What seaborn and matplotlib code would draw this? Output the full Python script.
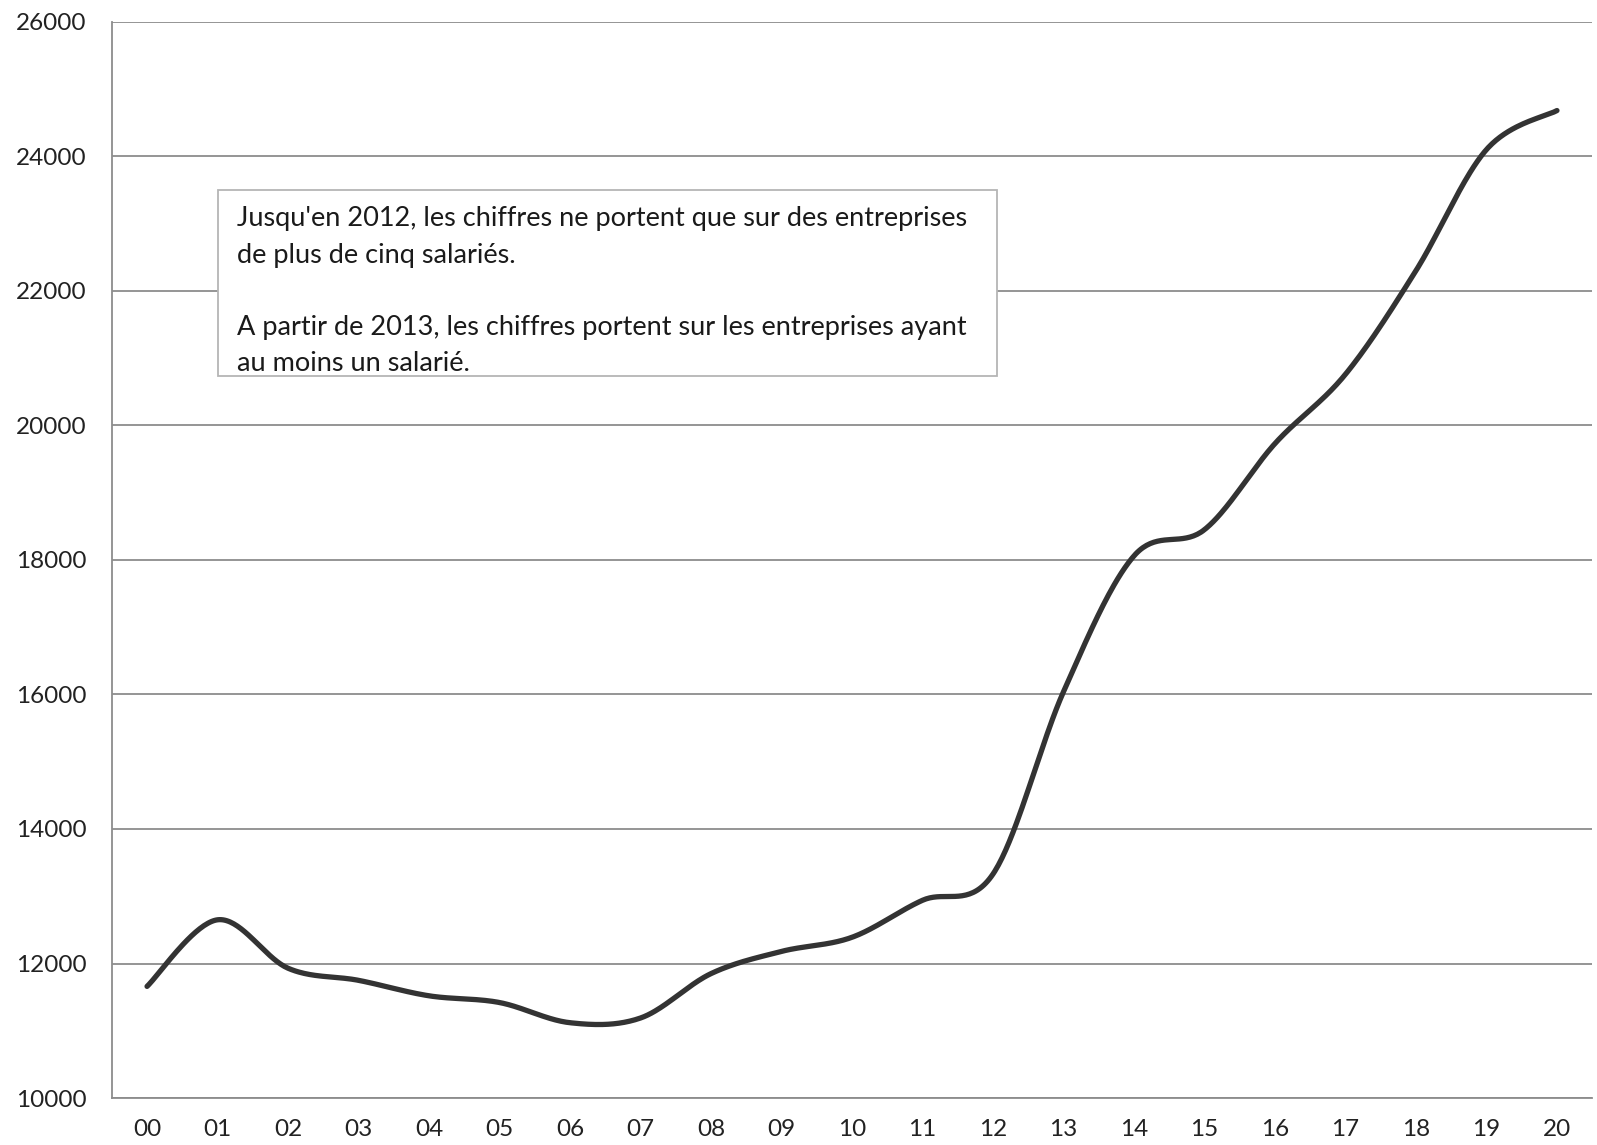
import numpy as np
import pandas as pd
import matplotlib
matplotlib.use("Agg")
import matplotlib.pyplot as plt
from matplotlib.patches import Rectangle
import seaborn as sns

# ── Données ────────────────────────────────────────────────────────
years = ["00", "01", "02", "03", "04", "05", "06", "07", "08", "09", "10",
         "11", "12", "13", "14", "15", "16", "17", "18", "19", "20"]
values = [11660, 12650, 11930, 11750, 11520, 11420, 11120, 11190, 11850, 12180,
          12390, 12940, 13330, 16040, 18060, 18450, 19730, 20760, 22300, 24100, 24680]
y_ticks = list(range(10000, 26001, 2000))
note_lines = [
    "Jusqu'en 2012, les chiffres ne portent que sur des entreprises",
    "de plus de cinq salariés.",
    "",
    "A partir de 2013, les chiffres portent sur les entreprises ayant",
    "au moins un salarié.",
]

sns.set_theme(style="white")
plt.rcParams["font.family"] = ["Lato", "DejaVu Sans"]


def excel_smooth(xs, ys, n=40):
    # courbe lissée façon Excel (Bézier, tangentes Catmull-Rom)
    pts = np.column_stack([xs, ys]).astype(float)
    p = np.vstack([pts[0], pts, pts[-1]])
    t = np.linspace(0, 1, n)[:, None]
    out = []
    for i in range(1, len(p) - 2):
        p0, p1, p2, p3 = p[i - 1], p[i], p[i + 1], p[i + 2]
        b1 = p1 + (p2 - p0) / 6
        b2 = p2 - (p3 - p1) / 6
        seg = (1 - t) ** 3 * p1 + 3 * (1 - t) ** 2 * t * b1 + 3 * (1 - t) * t ** 2 * b2 + t ** 3 * p2
        out.append(seg if i == 1 else seg[1:])
    return np.vstack(out)


df = pd.DataFrame({"idx": np.arange(len(years)), "val": values})
curve = excel_smooth(df["idx"], df["val"])
curve_df = pd.DataFrame(curve, columns=["x", "y"])

fig = plt.figure(figsize=(15.97, 11.45), dpi=100)
ax = fig.add_axes([0.070, 0.041, 0.927, 0.940])

GRID = "#8c8c8c"
ax.set_ylim(10000, 26000)
ax.set_xlim(-0.5, len(years) - 0.5)
ax.set_yticks(y_ticks)
ax.set_yticklabels([str(v) for v in y_ticks], fontsize=17.5, color="#222222")
ax.yaxis.grid(True, color=GRID, linewidth=1.3)
ax.xaxis.grid(False)
ax.set_axisbelow(True)

sns.lineplot(data=curve_df, x="x", y="y", sort=False, estimator=None,
             color="#333333", linewidth=3.8, ax=ax)

ax.set_xticks(df["idx"])
ax.set_xticklabels(years, fontsize=17.5, color="#222222")
ax.set_xticks(np.arange(-0.5, len(years), 1.0), minor=True)
ax.tick_params(axis="x", which="major", length=0, pad=15)
ax.tick_params(axis="x", which="minor", length=6, width=1.2, color=GRID, direction="out")
ax.tick_params(axis="y", which="major", length=8, width=1.3, color=GRID, direction="out", pad=10)
ax.set_xlabel("")
ax.set_ylabel("")

for s in ["top", "right"]:
    ax.spines[s].set_visible(False)
for s in ["left", "bottom"]:
    ax.spines[s].set_color(GRID)
    ax.spines[s].set_linewidth(1.3)

# encadré d'annotation
box = Rectangle((218 / 1597, 1 - 376 / 1145), (997 - 218) / 1597, (376 - 190) / 1145,
                transform=fig.transFigure, facecolor="white", edgecolor="#b5b5b5",
                linewidth=1.3, zorder=5)
fig.patches.append(box)
line_y = [219, 256, 0, 328, 363]
for txt, yy in zip(note_lines, line_y):
    if txt:
        fig.text(237 / 1597, 1 - yy / 1145, txt, fontsize=19.5, color="#1a1a1a",
                 va="center", ha="left", zorder=6)

fig.savefig("out.png", dpi=100)
